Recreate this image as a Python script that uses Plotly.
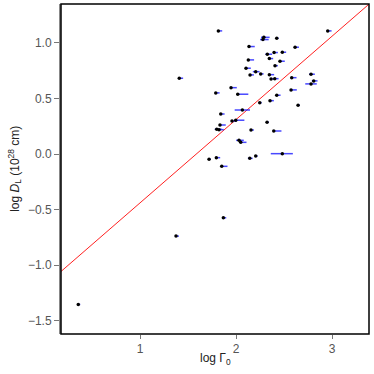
import numpy as np
import plotly.graph_objects as go

# log Gamma_0, log D_L, and asymmetric errors on log Gamma_0
log_gamma = [1.816, 1.409, 2.29, 2.28, 2.424, 2.955, 2.135, 2.615, 2.326, 2.396,
             2.482, 2.347, 2.128, 2.458, 2.406, 2.104, 2.205, 2.257, 2.146, 2.347,
             2.365, 2.403, 2.580, 2.781, 2.809, 2.781, 1.948, 1.789, 2.018, 2.424,
             2.573, 2.354, 2.247, 2.646, 2.066, 1.841, 1.997, 1.958, 1.833, 2.323,
             1.799, 1.823, 2.156, 2.393, 2.031, 2.049, 1.795, 1.719, 2.143, 2.205,
             2.482, 1.851, 1.868, 1.375, 0.357]
log_dl = [1.108, 0.682, 1.05, 1.03, 1.042, 1.108, 0.967, 0.961, 0.898, 0.913,
          0.916, 0.859, 0.847, 0.835, 0.795, 0.772, 0.741, 0.721, 0.712, 0.714,
          0.676, 0.678, 0.687, 0.718, 0.658, 0.631, 0.597, 0.550, 0.538, 0.529,
          0.577, 0.480, 0.462, 0.439, 0.396, 0.360, 0.304, 0.297, 0.261, 0.286,
          0.223, 0.219, 0.216, 0.207, 0.123, 0.105, -0.033, -0.048, -0.039, -0.018,
          0.003, -0.111, -0.574, -0.739, -1.354]
err_plus = [0.04, 0.04, 0.06, 0.06, 0.02, 0.04, 0.06, 0.04, 0.05, 0.04,
            0.04, 0.04, 0.06, 0.05, 0.03, 0.05, 0.04, 0.03, 0.04, 0.05,
            0.05, 0.04, 0.05, 0.04, 0.04, 0.06, 0.06, 0.04, 0.11, 0.04,
            0.06, 0.04, 0.02, 0.02, 0.08, 0.04, 0.09, 0.05, 0.06, 0.02,
            0.05, 0.05, 0.03, 0.08, 0.05, 0.06, 0.04, 0.02, 0.03, 0.02,
            0.11, 0.06, 0.03, 0.03, 0.02]
err_minus = [0.0, 0.0, 0.03, 0.03, 0.0, 0.0, 0.0, 0.0, 0.02, 0.0,
             0.0, 0.0, 0.0, 0.0, 0.0, 0.0, 0.03, 0.0, 0.0, 0.0,
             0.0, 0.0, 0.0, 0.02, 0.02, 0.06, 0.0, 0.0, 0.0, 0.0,
             0.0, 0.0, 0.0, 0.0, 0.08, 0.0, 0.0, 0.0, 0.0, 0.0,
             0.02, 0.0, 0.0, 0.0, 0.03, 0.0, 0.0, 0.0, 0.02, 0.0,
             0.12, 0.0, 0.0, 0.0, 0.0]

fit_slope = 0.75
fit_intercept = -1.19

x_range = [0.177, 3.385]
y_range = [-1.62, 1.35]

fig = go.Figure()

xf = np.array(x_range)
fig.add_trace(go.Scatter(x=xf, y=fit_slope * xf + fit_intercept, mode="lines",
                         line=dict(color="#ff2020", width=1), hoverinfo="skip"))

fig.add_trace(go.Scatter(
    x=log_gamma, y=log_dl, mode="markers",
    marker=dict(color="black", size=3.5),
    error_x=dict(type="data", symmetric=False, array=err_plus, arrayminus=err_minus,
                 color="rgba(40,40,255,0.85)", thickness=1.5, width=0),
))

axis_font = dict(family="Liberation Sans, Arial, sans-serif", size=12, color="#555")

fig.update_layout(
    width=374, height=374,
    margin=dict(l=61, r=5, t=4, b=40, autoexpand=False),
    paper_bgcolor="white", plot_bgcolor="white",
    showlegend=False,
    font=dict(family="Liberation Sans, Arial, sans-serif", size=12, color="#222"),
    xaxis=dict(range=x_range, tickvals=[1, 2, 3], ticktext=["1", "2", "3"],
               showgrid=False, zeroline=False, ticks="outside", ticklen=4,
               tickcolor="#777", tickfont=axis_font, showline=False,
               automargin=False),
    yaxis=dict(range=y_range, tickvals=[-1.5, -1.0, -0.5, 0.0, 0.5, 1.0],
               tickformat=".1f", showgrid=False, zeroline=False,
               ticks="outside", ticklen=5, tickcolor="#777", tickfont=axis_font,
               showline=True, linecolor="#888", linewidth=2, automargin=False),
    shapes=[dict(type="rect", xref="paper", yref="paper", x0=0, y0=0, x1=1, y1=1,
                 line=dict(color="black", width=1.5), layer="above")],
    annotations=[
        dict(text="log Γ<sub>0</sub>", xref="paper", yref="paper", x=0.5, y=-0.045,
             xanchor="center", yanchor="top", showarrow=False,
             font=dict(size=12, color="#222")),
        dict(text="log <i>D</i><sub>L</sub> (10<sup>28</sup> cm)", xref="paper",
             yref="paper", x=-0.15, y=0.5, xanchor="center", yanchor="middle",
             textangle=-90, showarrow=False, font=dict(size=12, color="#222")),
    ],
)

fig.write_html("out.html", config={"displayModeBar": False},
               post_script="document.body.style.margin='0';"
                           "document.body.style.overflow='hidden';")
